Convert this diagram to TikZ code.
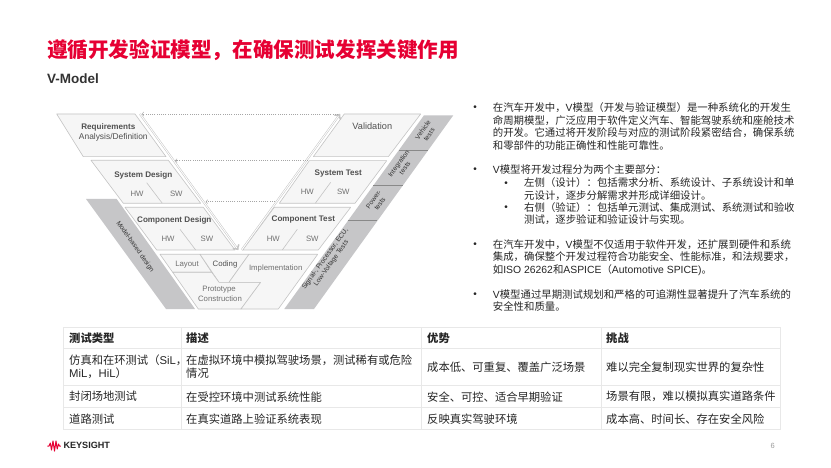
\documentclass[tikz,border=0pt]{standalone}
\usepackage{fontspec}
\usepackage{tikz}
\usetikzlibrary{arrows}
\setmainfont{Noto Sans CJK SC}
\newfontfamily\latfont{Liberation Sans}
\newcommand{\lat}[1]{{\latfont #1}}
% full-width punctuation
\newcommand{\zc}{^^^^ff0c}
\newcommand{\zl}{^^^^ff08}
\newcommand{\zr}{^^^^ff09}
\newcommand{\zm}{^^^^ff1a}
\definecolor{ksred}{HTML}{E60033}
\definecolor{panelfill}{HTML}{F6F6F6}
\definecolor{paneledge}{HTML}{C4C4C4}
\definecolor{bandgrey}{HTML}{C6C6C8}
\definecolor{labelgrey}{HTML}{707070}
\definecolor{headgrey}{HTML}{505050}
\definecolor{bodytext}{HTML}{262626}
\definecolor{rulegrey}{HTML}{E8E8E8}
\tikzset{
  panel/.style={fill=panelfill,draw=paneledge,line width=0.6pt,line join=round},
  band/.style={fill=bandgrey,draw=none},
  bandline/.style={draw=paneledge!70!black,line width=0.4pt},
  sub/.style={text=labelgrey,font=\latfont\fontsize{7.8}{9}\selectfont,inner sep=0pt},
  head/.style={text=headgrey,font=\latfont\bfseries\fontsize{8.1}{9}\selectfont,inner sep=0pt},
  bandtext/.style={text=black!80,font=\latfont\fontsize{6.7}{7.6}\selectfont,inner sep=0pt,align=center},
  varrow/.style={->,>=to,draw=paneledge,double=white,double distance=0.9pt,line width=0.5pt},
  tracearrow/.style={->,>=to,draw=black!35,dash pattern=on 1pt off 1.2pt,line width=0.6pt},
  para/.style={anchor=north west,inner sep=0pt,align=left,text=bodytext,font=\fontsize{10.4}{12.45}\selectfont},
  dot/.style={anchor=center,inner sep=0pt,text=bodytext,font=\latfont\fontsize{10}{12}\selectfont},
  cell/.style={anchor=west,inner sep=0pt,align=left,text=bodytext,font=\fontsize{11.3}{13}\selectfont},
  cellhead/.style={cell,font=\bfseries\fontsize{11.3}{13}\selectfont}
}
\begin{document}
\begin{tikzpicture}[x=1pt,y=-1pt]
  \useasboundingbox[fill=white] (0,0) rectangle (831,468);
  % title
  \node[anchor=west,inner sep=0pt,text=ksred,font=\bfseries\fontsize{20.6}{24}\selectfont] (title) at (47,50.5) {遵循开发验证模型\zc 在确保测试发挥关键作用};
  \node[anchor=west,inner sep=0pt,text=black!80,font=\latfont\bfseries\fontsize{13.5}{16}\selectfont] (subtitle) at (47,79) {V-Model};
  % grey bands
  \path[band] (86,199) -- (116.7,199) -- (195,309) -- (166,309) -- cycle;
  \path[band] (424,115.3) -- (453.3,115.3) -- (314,309) -- (284.3,309) -- cycle;
  \draw[bandline] (399.3,150.7) -- (428.3,150.7);
  \draw[bandline] (373.3,185) -- (403,185);
  \draw[bandline] (347.7,220.7) -- (377,220.7);
  % left side
  \draw[panel] (56.7,114) -- (135,114) -- (166,156.7) -- (83.3,156.7) -- cycle;
  \draw[panel] (91,160.3) -- (168.3,160.3) -- (200.7,203.3) -- (123.3,203.3) -- cycle;
  \draw[panel] (146.7,182.7) -- (162.3,203.3);
  \draw[panel] (125,207.3) -- (203.3,207.3) -- (235,250) -- (156.7,250) -- cycle;
  \draw[panel] (180,229.3) -- (195.7,250);
  % bottom of the V
  \draw[panel] (160,254.3) -- (200,254.3) -- (211.7,272.3) -- (172.7,272.3) -- cycle;
  \draw[panel] (200,254.3) -- (249,254.3) -- (229,282.3) -- (219,282.3) -- cycle;
  \draw[panel] (172.7,272.3) -- (211.7,272.3) -- (219,282.3) -- (260.7,282.3) -- (241,309) -- (198.3,309) -- cycle;
  \draw[panel] (249,254.3) -- (317.7,254.3) -- (278.3,309) -- (241,309) -- (260.7,282.3) -- (229,282.3) -- cycle;
  % right side
  \draw[panel] (344.3,114) -- (420.7,114) -- (388.3,156.7) -- (313.3,156.7) -- cycle;
  \draw[panel] (309.3,160.7) -- (386.7,160.7) -- (355,203.3) -- (279.3,203.3) -- cycle;
  \draw[panel] (330.7,182.3) -- (315.3,203.3);
  \draw[panel] (274.3,207.3) -- (350.7,207.3) -- (318.3,250) -- (242.7,250) -- cycle;
  \draw[panel] (297.3,229.3) -- (282.3,250);
  % labels
  \node[head] (req) at (108.3,127.7) {Requirements};
  \node[sub,text=headgrey,font=\latfont\fontsize{8.4}{9}\selectfont] (reqdef) at (113.3,136.9) {Analysis/Definition};
  \node[head] (sysd) at (143.3,175) {System Design};
  \node[sub] (sysdhw) at (137,193.7) {HW};
  \node[sub] (sysdsw) at (176.3,193.7) {SW};
  \node[head] (compd) at (174.3,220.7) {Component Design};
  \node[sub] (compdhw) at (168,239.3) {HW};
  \node[sub] (compdsw) at (207,239.3) {SW};
  \node[sub] (layout) at (187,265) {Layout};
  \node[sub,text=headgrey] (coding) at (225,264.3) {Coding};
  \node[sub] (proto) at (219,289.3) {Prototype};
  \node[sub] (constr) at (220,299) {Construction};
  \node[sub] (impl) at (275.7,268) {Implementation};
  \node[sub,text=headgrey,font=\latfont\fontsize{9.2}{10}\selectfont] (valid) at (372.3,126) {Validation};
  \node[head] (syst) at (338.3,173.3) {System Test};
  \node[sub] (systhw) at (307.3,192.3) {HW};
  \node[sub] (systsw) at (343.3,192.3) {SW};
  \node[head] (compt) at (303.3,220) {Component Test};
  \node[sub] (compthw) at (273.3,238.7) {HW};
  \node[sub] (comptsw) at (312.3,238.7) {SW};
  \node[bandtext,rotate=-54.5] (mbd) at (135,246.7) {Model-based design};
  \node[bandtext,rotate=54.3] (vehicle) at (426,132.3) {Vehicle\\tests};
  \node[bandtext,rotate=54.3] (integ) at (401.7,165.7) {Integration\\tests};
  \node[bandtext,rotate=54.3] (power) at (376.7,201.7) {Power-\\tests};
  \node[bandtext,rotate=54.3] (signal) at (328.3,261) {Signal-, Processor, ECU,\\Low-Voltage Tests};
  % arrows of the V
  \coordinate (vlefttop) at (140,114);
  \coordinate (vleftend) at (238.3,250);
  \coordinate (vrightend) at (340,114);
  \coordinate (vrightstart) at (241.7,250);
  \draw[varrow] (vlefttop) -- (vleftend);
  \draw[varrow] (vrightstart) -- (vrightend);
  \coordinate (tracea) at (338,114);
  \coordinate (traceb) at (308,160.7);
  \coordinate (tracec) at (275,201.7);
  \coordinate (reqa) at (141.7,114);
  \coordinate (reqb) at (175,160.7);
  \coordinate (reqc) at (205.7,201.7);
  \draw[tracearrow] (tracea) -- (reqa);
  \draw[tracearrow] (traceb) -- (reqb);
  \draw[tracearrow] (tracec) -- (reqc);
  % text on the right
  \foreach \n/\px/\py in {a/475/108.3,b/475/170.3,c/506/183.7,d/506/208.3,e/475/245,f/475/295}
    \node[dot] (dot\n) at (\px,\py) {•};
  \node[para] (paraa) at (492.7,102.6) {在汽车开发中\zc\lat{V}模型\zl 开发与验证模型\zr 是一种系统化的开发生\\命周期模型\zc 广泛应用于软件定义汽车、智能驾驶系统和座舱技术\\的开发。它通过将开发阶段与对应的测试阶段紧密结合\zc 确保系统\\和零部件的功能正确性和性能可靠性。};
  \node[para] (parab) at (492.7,164.6) {\lat{V}模型将开发过程分为两个主要部分\zm};
  \node[para] (parac) at (524,177.6) {左侧\zl 设计\zr\zm 包括需求分析、系统设计、子系统设计和单\\元设计\zc 逐步分解需求并形成详细设计。};
  \node[para] (parad) at (524,202.4) {右侧\zl 验证\zr\zm 包括单元测试、集成测试、系统测试和验收\\测试\zc 逐步验证和验证设计与实现。};
  \node[para] (parae) at (492.7,239.2) {在汽车开发中\zc\lat{V}模型不仅适用于软件开发\zc 还扩展到硬件和系统\\集成\zc 确保整个开发过程符合功能安全、性能标准\zc 和法规要求\zc\\如\lat{ISO 26262}和\lat{ASPICE}\zl\lat{Automotive SPICE)}。};
  \node[para] (paraf) at (492.7,289.2) {\lat{V}模型通过早期测试规划和严格的可追溯性显著提升了汽车系统的\\安全性和质量。};
  % table
  \foreach \ry in {327.3,348.3,385.3,407.7,429.3}
    \draw[rulegrey,line width=0.7pt] (63.3,\ry) -- (780.7,\ry);
  \foreach \rx in {63.3,181.3,421.7,601,780.7}
    \draw[rulegrey,line width=0.7pt] (\rx,327.3) -- (\rx,429.3);
  \node[cellhead] (ha) at (69,338) {测试类型};
  \node[cellhead] (hb) at (186,338) {描述};
  \node[cellhead] (hc) at (427,338) {优势};
  \node[cellhead] (hd) at (606,338) {挑战};
  \node[cell] (aa) at (69,367) {仿真和在环测试\zl\lat{SiL}\zc\\\lat{MiL}\zc\lat{HiL}\zr};
  \node[cell] (ab) at (186,367) {在虚拟环境中模拟驾驶场景\zc 测试稀有或危险\\情况};
  \node[cell] (ac) at (427,367) {成本低、可重复、覆盖广泛场景};
  \node[cell] (ad) at (606,367) {难以完全复制现实世界的复杂性};
  \node[cell] (ba) at (69,396.7) {封闭场地测试};
  \node[cell] (bb) at (186,396.7) {在受控环境中测试系统性能};
  \node[cell] (bc) at (427,396.7) {安全、可控、适合早期验证};
  \node[cell] (bd) at (606,396.7) {场景有限\zc 难以模拟真实道路条件};
  \node[cell] (ca) at (69,418.7) {道路测试};
  \node[cell] (cb) at (186,418.7) {在真实道路上验证系统表现};
  \node[cell] (cc) at (427,418.7) {反映真实驾驶环境};
  \node[cell] (cd) at (606,418.7) {成本高、时间长、存在安全风险};
  % footer
  \draw[ksred,line width=1pt,line join=round] (47.3,446) -- (49,446) -- (50.3,443) -- (51.5,450) -- (53,441) -- (54.5,451) -- (56,441) -- (57.2,449) -- (58.5,444) -- (59.5,446) -- (60.8,446);
  \node[anchor=west,inner sep=0pt,text=black!85,font=\latfont\bfseries\fontsize{9.1}{11}\selectfont] (logo) at (63.3,445.7) {KEYSIGHT};
  \node[inner sep=0pt,text=black!40,font=\latfont\fontsize{7.5}{9}\selectfont] (pageno) at (772.7,445.7) {6};
\end{tikzpicture}
\end{document}
